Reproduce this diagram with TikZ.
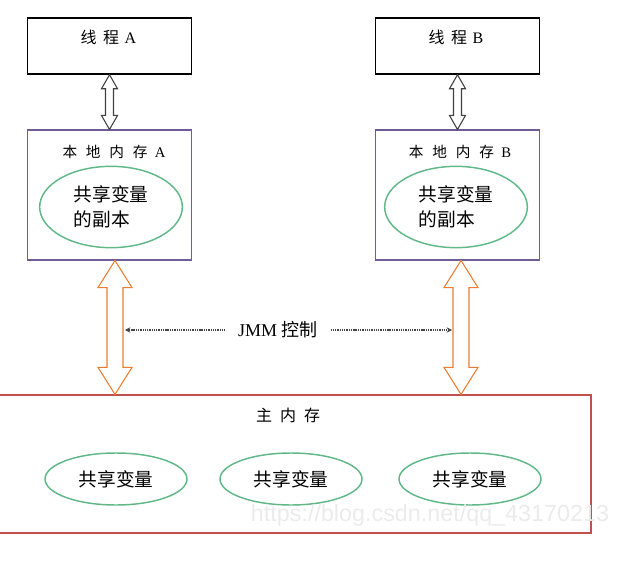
\documentclass[tikz,border=0pt]{standalone}
\usepackage{fontspec}
\setmainfont{Liberation Serif}
\newfontfamily\cjk{Noto Sans CJK SC}
\newfontfamily\wmfont{Liberation Sans}
\usetikzlibrary{calc,arrows.meta,shapes.geometric}

\definecolor{lmemc}{RGB}{112,92,150}
\definecolor{mainc}{RGB}{192,80,77}
\definecolor{varc}{RGB}{96,184,136}
\definecolor{pipec}{RGB}{237,125,49}
\definecolor{ctlc}{RGB}{70,70,70}

\tikzset{
  thread/.style={draw=black, line width=1.1pt, minimum width=123pt, minimum height=42pt, inner sep=0pt},
  localmem/.style={draw=lmemc, line width=0.8pt, minimum width=123pt, minimum height=97.5pt, inner sep=0pt},
  mainmem/.style={draw=mainc, line width=0.9pt, minimum width=447pt, minimum height=103.5pt, inner sep=0pt},
  copyvar/.style={ellipse, draw=varc, line width=1.1pt, minimum width=107pt, minimum height=61pt, inner sep=0pt,
    align=left, font=\cjk\fontsize{14}{18.75}\selectfont},
  sharevar/.style={ellipse, draw=varc, line width=1.1pt, minimum width=106.5pt, minimum height=39pt, inner sep=0pt,
    font=\cjk\fontsize{14}{17}\selectfont},
  tlabel/.style={font=\fontsize{12}{14}\selectfont, inner sep=0pt},
  mlabel/.style={font=\fontsize{11}{13}\selectfont, inner sep=0pt},
  thinpipe/.style={draw=black!75, line width=0.8pt, fill=white},
  fatpipe/.style={draw=pipec, line width=0.8pt, fill=white},
  ctl/.style={draw=ctlc, line width=1pt, dash pattern=on 1pt off 0.7pt, -{Stealth[length=4pt,width=4pt]}},
  wmark/.style={font=\wmfont\fontsize{17.5}{20}\selectfont, text=black!8, inner sep=0pt}
}

\begin{document}
\begin{tikzpicture}[x=0.75pt, y=-0.75pt]
  \useasboundingbox (0,0) rectangle (643,567);

  % Threads
  \node[thread] (thrA) at (109.5,46) {};
  \node[thread] (thrB) at (457.5,46) {};
  \node[tlabel] (thrAt) at (108.5,37) {{\cjk 线\hspace{0.4em}程}\hspace{0.35em}A};
  \node[tlabel] (thrBt) at (456,37) {{\cjk 线\hspace{0.4em}程}\hspace{0.35em}B};

  % Local memories
  \node[localmem] (locA) at (109.5,195) {};
  \node[localmem] (locB) at (457.5,195) {};
  \node[mlabel] (locAt) at (114,152) {{\cjk 本\hspace{0.6em}地\hspace{0.6em}内\hspace{0.6em}存}\hspace{0.5em}A};
  \node[mlabel] (locBt) at (460,152) {{\cjk 本\hspace{0.6em}地\hspace{0.6em}内\hspace{0.6em}存}\hspace{0.5em}B};
  \node[copyvar] (copyA) at (111,207) {共享变量\\的副本};
  \node[copyvar] (copyB) at (456,207) {共享变量\\的副本};

  % Main memory
  \node[mainmem] (main) at (293,464) {};
  \node[tlabel] (maint) at (288,415) {\cjk 主\hspace{0.5em}内\hspace{0.5em}存};
  \node[sharevar] (varA) at (116,479) {共享变量};
  \node[sharevar] (varB) at (291,479) {共享变量};
  \node[sharevar] (varC) at (470,479) {共享变量};

  % Thread <-> local memory
  \foreach \p/\q in {thrA.south/locA.north, thrB.south/locB.north}
    \draw[thinpipe] (\p) -- ($(\p)+(8,14)$) -- ($(\p)+(4,14)$) -- ($(\q)+(4,-14)$)
      -- ($(\q)+(8,-14)$) -- (\q) -- ($(\q)+(-8,-14)$) -- ($(\q)+(-4,-14)$)
      -- ($(\p)+(-4,14)$) -- ($(\p)+(-8,14)$) -- cycle;

  % Local memory <-> main memory
  \coordinate (pA1) at ($(locA.south)+(5.5,0)$);
  \coordinate (pA2) at (pA1 |- main.north);
  \coordinate (pB1) at ($(locB.south)+(3.5,0)$);
  \coordinate (pB2) at (pB1 |- main.north);
  \foreach \p/\q in {pA1/pA2, pB1/pB2}
    \draw[fatpipe] (\p) -- ($(\p)+(17,27)$) -- ($(\p)+(8,27)$) -- ($(\q)+(8,-27)$)
      -- ($(\q)+(17,-27)$) -- (\q) -- ($(\q)+(-17,-27)$) -- ($(\q)+(-8,-27)$)
      -- ($(\p)+(-8,27)$) -- ($(\p)+(-17,27)$) -- cycle;

  % JMM control
  \node[font=\fontsize{13.5}{16}\selectfont, inner xsep=9.4pt, inner ysep=0pt] (jmm) at (278,330) {JMM {\cjk 控制}};
  \coordinate (sA) at ($(pA1)+(10,0)$);
  \coordinate (sB) at ($(pB1)+(-9,0)$);
  \coordinate (cA) at (sA |- jmm.west);
  \coordinate (cB) at (sB |- jmm.east);
  \draw[ctl] (jmm.west) -- (cA);
  \draw[ctl] (jmm.east) -- (cB);

  % Watermark
  \node[wmark] (wm) at (430,515) {https://blog.csdn.net/qq\_43170213};

\end{tikzpicture}
\end{document}
